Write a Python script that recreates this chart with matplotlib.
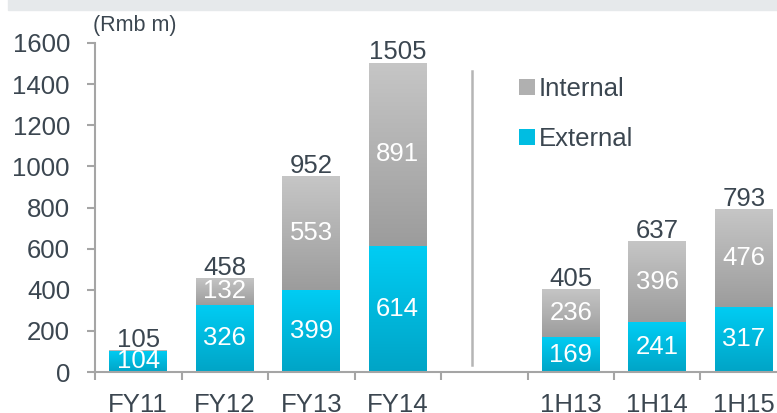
import numpy as np
import matplotlib
matplotlib.use("Agg")
import matplotlib.pyplot as plt
from matplotlib.colors import LinearSegmentedColormap
from matplotlib.patches import Rectangle, Patch

# ── data ───────────────────────────────────────────────────────────────
categories = ["FY11", "FY12", "FY13", "FY14", "", "1H13", "1H14", "1H15"]
external = [104, 326, 399, 614, None, 169, 241, 317]
internal = [1, 132, 553, 891, None, 236, 396, 476]
totals = [105, 458, 952, 1505, None, 405, 637, 793]
yticks = [0, 200, 400, 600, 800, 1000, 1200, 1400, 1600]

TXT = "#3b4650"
FS = 18.5
plt.rcParams["font.family"] = ["Liberation Sans", "DejaVu Sans"]

fig = plt.figure(figsize=(7.77, 4.13), dpi=100)
# grey banner at top (cropped title bar)
fig.patches.append(Rectangle((0.01, 0.975), 0.99, 0.03, transform=fig.transFigure,
                             color="#e6e9eb", zorder=0))

ax = fig.add_axes([95 / 777, 1 - 372 / 413, 692 / 777, 329 / 413])

grey_cm = LinearSegmentedColormap.from_list("g", ["#9c9c9c", "#c6c6c6"])
cyan_cm = LinearSegmentedColormap.from_list("c", ["#00a4c6", "#00cdf4"])
grad = np.linspace(0, 1, 256).reshape(-1, 1)

width = 0.67
x = np.arange(len(categories))
for i in x:
    if totals[i] is None:
        continue
    ext, itl = external[i], internal[i]
    for bottom, h, cm in [(0, ext, cyan_cm), (ext, itl, grey_cm)]:
        bar = ax.bar(i, h, width, bottom=bottom, color="none", edgecolor="none")[0]
        im = ax.imshow(grad, cmap=cm, origin="lower", aspect="auto",
                       extent=(i - width / 2, i + width / 2, bottom, bottom + h), zorder=2)
        im.set_clip_path(bar)
    ax.text(i, ext / 2, str(ext), ha="center", va="center", color="white",
            fontsize=FS, zorder=3)
    if itl > 20:
        ax.text(i, ext + itl / 2, str(itl), ha="center", va="center", color="white",
                fontsize=FS, zorder=3)
    ax.text(i, totals[i] + 15, str(totals[i]), ha="center", va="baseline", color=TXT,
            fontsize=FS, zorder=3)

# separator between annual and half-year figures
ax.plot([3.86, 3.86], [34, 1463], color="#b5b5b5", lw=1.8, zorder=1)

ax.set_xlim(-0.5, 7.5)
ax.set_ylim(0, 1600)
ax.set_yticks(yticks)
ax.set_xticks(x)
ax.set_xticklabels(categories)
ax.set_xticks(np.arange(-0.5, 8, 1), minor=True)
ax.tick_params(axis="x", which="major", length=0, pad=15, labelsize=FS, labelcolor=TXT)
ax.tick_params(axis="x", which="minor", length=6, width=1.5, color="#a5a5a5", direction="out")
ax.tick_params(axis="y", length=6, width=1.5, color="#a5a5a5", pad=12,
               labelsize=FS, labelcolor=TXT)
for s in ["top", "right"]:
    ax.spines[s].set_visible(False)
for s in ["left", "bottom"]:
    ax.spines[s].set_color("#a5a5a5")
    ax.spines[s].set_linewidth(1.5)

fig.text(93 / 777, 1 - 26 / 413, "(Rmb m)", fontsize=15.5, color=TXT, va="center", ha="left")

handles = [Patch(facecolor="#b0b0b0", label="Internal"),
           Patch(facecolor="#00bde2", label="External")]
fig.legend(handles=handles, loc="upper left", bbox_to_anchor=(496 / 777, 1 - 54 / 413),
           frameon=False, fontsize=FS, handlelength=0.6, handleheight=0.6,
           handletextpad=0.15, labelspacing=1.0, labelcolor=TXT)

fig.savefig("out.png", dpi=100)
